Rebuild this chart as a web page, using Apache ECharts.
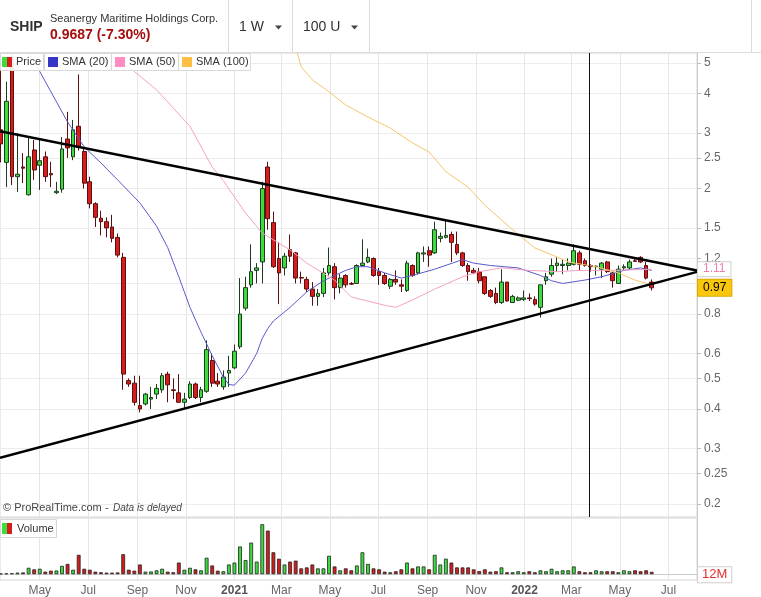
<!DOCTYPE html>
<html>
<head>
<meta charset="utf-8">
<script src="https://cdn.jsdelivr.net/npm/echarts@6/dist/echarts.min.js"></script>
<style>
  html, body { margin: 0; padding: 0; background: #fff; }
  #main { width: 761px; height: 597px; }
</style>
</head>
<body>
<div id="main"></div>
<script>
// weekly bars, week 0 = 13 Mar 2020
const firstWeek = Date.UTC(2020, 2, 13);
const WEEK = 7 * 86400000;
const xMin = Date.UTC(2020, 2, 12);
const xMax = Date.UTC(2022, 7, 6);

const monthTicks = ['2020-05', '2020-07', '2020-09', '2020-11', '2021-01', '2021-03', '2021-05',
  '2021-07', '2021-09', '2021-11', '2022-01', '2022-03', '2022-05', '2022-07'];
const monthNames = ['Jan', 'Feb', 'Mar', 'Apr', 'May', 'Jun', 'Jul', 'Aug', 'Sep', 'Oct', 'Nov', 'Dec'];
const priceLabels = [0.2, 0.25, 0.3, 0.4, 0.5, 0.6, 0.8, 1.2, 1.5, 2, 2.5, 3, 4, 5];
const priceGrid = [0.2, 0.25, 0.3, 0.4, 0.5, 0.6, 0.8, 1, 1.2, 1.5, 2, 2.5, 3, 4, 5];

const opens = [3.07, 2.42, 5.2, 2.18, 2.34, 1.91, 2.65, 2.37, 2.52, 2.23,
  1.94, 1.99, 2.87, 2.52, 3.15, 2.62, 2.10, 1.79, 1.61, 1.57,
  1.51, 1.40, 1.21, 0.492, 0.483, 0.41, 0.415, 0.43, 0.446, 0.46,
  0.516, 0.46, 0.45, 0.42, 0.435, 0.48, 0.435, 0.455, 0.57, 0.49,
  0.47, 0.52, 0.54, 0.63, 0.835, 0.99, 1.10, 1.17, 2.34, 1.56,
  1.20, 1.12, 1.28, 1.25, 1.045, 1.03, 0.96, 0.91, 0.93, 1.08,
  1.13, 0.97, 1.06, 1.0, 1.0, 1.14, 1.17, 1.20, 1.09, 1.06,
  0.98, 1.03, 0.99, 0.95, 1.14, 1.08, 1.24, 1.27, 1.25, 1.39,
  1.40, 1.43, 1.33, 1.25, 1.14, 1.10, 1.09, 1.05, 0.95, 0.93,
  0.87, 1.01, 0.87, 0.885, 0.89, 0.90, 0.89, 0.84, 1.02, 1.07,
  1.14, 1.14, 1.14, 1.15, 1.25, 1.18, 1.14, 1.13, 1.11, 1.17,
  1.08, 1.0, 1.12, 1.12, 1.18, 1.21, 1.14, 1.01];
const closes = [2.77, 3.78, 2.18, 2.22, 2.32, 2.52, 2.29, 2.45, 2.18, 2.21,
  1.96, 2.67, 2.69, 3.07, 2.70, 2.08, 1.79, 1.62, 1.57, 1.50,
  1.39, 1.23, 0.516, 0.48, 0.42, 0.40, 0.446, 0.435, 0.465, 0.51,
  0.477, 0.458, 0.42, 0.43, 0.48, 0.435, 0.46, 0.617, 0.483, 0.48,
  0.505, 0.53, 0.61, 0.80, 0.97, 1.09, 1.12, 2.00, 1.605, 1.13,
  1.08, 1.22, 1.22, 1.04, 1.04, 0.96, 0.91, 0.93, 1.08, 1.14,
  0.97, 1.04, 0.99, 0.995, 1.14, 1.16, 1.21, 1.06, 1.06, 1.0,
  1.03, 1.01, 0.98, 1.16, 1.06, 1.25, 1.25, 1.23, 1.48, 1.41,
  1.42, 1.35, 1.25, 1.14, 1.09, 1.08, 1.02, 0.93, 0.91, 0.87,
  1.01, 0.88, 0.91, 0.90, 0.90, 0.895, 0.86, 0.99, 1.05, 1.14,
  1.16, 1.15, 1.16, 1.27, 1.15, 1.14, 1.13, 1.135, 1.16, 1.09,
  1.02, 1.11, 1.13, 1.17, 1.175, 1.17, 1.04, 0.9687];
const lows = [2.42, 2.02, 2.05, 1.95, 2.08, 1.90, 2.13, 1.98, 2.10, 2.02,
  1.92, 1.94, 2.50, 2.46, 2.64, 2.00, 1.73, 1.51, 1.42, 1.40,
  1.35, 1.21, 0.46, 0.47, 0.41, 0.39, 0.41, 0.40, 0.43, 0.45,
  0.42, 0.43, 0.42, 0.40, 0.43, 0.43, 0.42, 0.45, 0.47, 0.47,
  0.46, 0.47, 0.535, 0.62, 0.82, 0.97, 1.00, 1.00, 1.48, 1.12,
  0.86, 1.06, 1.17, 1.00, 1.00, 0.94, 0.85, 0.85, 0.905, 1.06,
  0.89, 0.93, 0.97, 0.99, 1.0, 1.13, 1.16, 1.05, 0.99, 0.99,
  0.96, 0.99, 0.94, 0.94, 1.05, 1.07, 1.17, 1.13, 1.24, 1.35,
  1.39, 1.17, 1.23, 1.13, 1.02, 1.07, 1.0, 0.92, 0.90, 0.86,
  0.86, 0.875, 0.87, 0.88, 0.88, 0.88, 0.85, 0.78, 0.99, 1.05,
  1.09, 1.07, 1.10, 1.14, 1.10, 1.13, 1.09, 1.06, 1.04, 1.08,
  0.97, 1.0, 1.10, 1.11, 1.17, 1.16, 1.03, 0.95];
const highs = [4.9, 4.36, 5.8, 3.0, 2.59, 2.91, 2.85, 2.85, 2.62, 2.43,
  2.10, 2.91, 3.50, 3.30, 4.6, 2.70, 2.18, 1.81, 1.70, 1.62,
  1.65, 1.44, 1.25, 0.50, 0.51, 0.51, 0.45, 0.47, 0.48, 0.52,
  0.525, 0.50, 0.516, 0.45, 0.49, 0.485, 0.47, 0.66, 0.60, 0.52,
  0.53, 0.59, 0.64, 1.04, 1.05, 1.33, 1.16, 2.10, 2.43, 1.69,
  1.35, 1.25, 1.43, 1.26, 1.09, 1.05, 1.01, 0.96, 1.12, 1.30,
  1.16, 1.07, 1.07, 1.01, 1.15, 1.38, 1.29, 1.21, 1.12, 1.08,
  1.04, 1.10, 1.03, 1.18, 1.15, 1.26, 1.31, 1.31, 1.57, 1.45,
  1.59, 1.46, 1.46, 1.26, 1.16, 1.12, 1.12, 1.05, 0.96, 0.97,
  1.11, 1.01, 0.92, 0.91, 0.95, 0.93, 0.91, 0.99, 1.08, 1.20,
  1.21, 1.19, 1.20, 1.33, 1.27, 1.20, 1.15, 1.14, 1.17, 1.18,
  1.09, 1.14, 1.15, 1.19, 1.21, 1.22, 1.17, 1.03];
// volume in millions
const volumes = [3, 4, 5, 8, 9, 33, 25, 28, 13, 18,
  19, 43, 53, 23, 100, 28, 23, 13, 10, 8,
  8, 9, 103, 23, 18, 50, 13, 14, 20, 28,
  13, 10, 60, 23, 33, 25, 20, 85, 45, 18,
  15, 50, 60, 143, 73, 163, 65, 258, 225, 113,
  80, 50, 65, 70, 30, 35, 50, 30, 30, 95,
  40, 20, 30, 20, 45, 113, 53, 30, 25, 13,
  10, 15, 25, 60, 30, 40, 40, 25, 100, 50,
  80, 60, 35, 35, 35, 25, 16, 25, 13, 15,
  35, 10, 10, 15, 10, 15, 10, 20, 15, 28,
  15, 20, 20, 40, 15, 10, 10, 20, 15, 15,
  15, 10, 20, 15, 20, 15, 20, 12];

// moving averages: [week, value]
const sma20 = [[4, 5.9], [5, 5.4], [7, 4.7], [12, 3.25], [15, 2.71], [18, 2.41], [21, 2.13], [25, 1.80],
  [28, 1.52], [30, 1.30], [32, 1.05], [34, 0.84], [36, 0.70], [38, 0.59], [40, 0.505], [41, 0.478],
  [42, 0.476], [44, 0.52], [46, 0.60], [47, 0.67], [48, 0.72], [49, 0.76], [52, 0.84], [55, 0.94],
  [58, 1.02], [62, 1.10], [64, 1.13], [66, 1.13], [69, 1.08], [72, 1.04], [74, 1.06], [78, 1.11],
  [83, 1.19], [85, 1.16], [88, 1.14], [93, 1.12], [97, 1.06], [99, 1.02], [101, 1.0], [105, 1.025],
  [108, 1.05], [112, 1.10], [115, 1.12], [117, 1.10]];
const sma50 = [[20, 5.45], [24, 4.7], [28, 4.11], [34, 3.15], [38, 2.34], [40, 2.12], [42, 1.88], [44, 1.67],
  [47, 1.445], [52, 1.277], [55, 1.16], [60, 1.025], [63, 0.906], [69, 0.853], [71, 0.84], [74, 0.886],
  [78, 0.96], [83, 1.05], [86, 1.09], [90, 1.12], [95, 1.10], [100, 1.09], [104, 1.10], [110, 1.10], [117, 1.11]];
const sma100 = [[53, 5.6], [54, 4.86], [56, 4.42], [59, 4.05], [62, 3.68], [66, 3.37], [70, 3.11], [74, 2.79],
  [77, 2.61], [80, 2.26], [84, 2.02], [87, 1.77], [92, 1.48], [96, 1.296], [100, 1.213], [102, 1.17],
  [107, 1.13], [111, 1.08], [114, 1.025], [117, 0.99]];

// triangle trend lines, values at the left and right edge of the chart
const upperTrend = [3.04, 1.10];
const lowerTrend = [0.280, 1.088];
const cursorWeek = 105.8;

const GREEN = '#3ddc3d', RED = '#d81b1b';
const weekTime = w => firstWeek + w * WEEK;
const monthTimes = monthTicks.map(s => Date.UTC(+s.slice(0, 4), +s.slice(5) - 1, 1));
const candleData = opens.map((o, i) => [weekTime(i), o, closes[i], lows[i], highs[i]]);
const volumeData = volumes.map((v, i) => ({
  value: [weekTime(i), v],
  itemStyle: { color: closes[i] >= opens[i] ? GREEN : RED }
}));
const toLine = arr => arr.map(p => [weekTime(p[0]), p[1]]);

const myChart = echarts.init(document.getElementById('main'));

const txt = (x, y, text, font, fill) => ({
  type: 'text', x: x, y: y, z: 100,
  style: { text: text, font: font, fill: fill, verticalAlign: 'middle' }
});
const box = (x, y, w, h, fill, stroke) => ({
  type: 'rect', z: 99, shape: { x: x, y: y, width: w, height: h },
  style: { fill: fill, stroke: stroke || null, lineWidth: 1 }
});
const hline = (x1, y1, x2, y2) => ({
  type: 'line', z: 100, shape: { x1: x1, y1: y1, x2: x2, y2: y2 },
  style: { stroke: '#dcdcdc', lineWidth: 1 }
});

const legendFont = '11px Arial';
const graphics = [
  box(0, 0, 761, 52, '#fff'),
  hline(0, 52.5, 761, 52.5),
  hline(228.5, 0, 228.5, 52),
  hline(292.5, 0, 292.5, 52),
  hline(369.5, 0, 369.5, 52),
  hline(751.5, 0, 751.5, 52),
  txt(10, 27, 'SHIP', 'bold 14px Arial', '#333'),
  txt(50, 19, 'Seanergy Maritime Holdings Corp.', '11px Arial', '#333'),
  txt(50, 35, '0.9687 (-7.30%)', 'bold 14px Arial', '#a50e0e'),
  txt(239, 27, '1 W', '14px Arial', '#333'),
  { type: 'polygon', z: 100, shape: { points: [[275, 25.5], [282, 25.5], [278.5, 29.5]] }, style: { fill: '#444' } },
  txt(303, 27, '100 U', '14px Arial', '#333'),
  { type: 'polygon', z: 100, shape: { points: [[351, 25.5], [358, 25.5], [354.5, 29.5]] }, style: { fill: '#444' } },
  // legend
  box(0.5, 53.5, 43, 17, 'rgba(255,255,255,0.92)', '#d8d8d8'),
  box(2, 57, 5, 10, GREEN), box(7, 57, 5, 10, RED),
  txt(16, 62, 'Price', legendFont, '#333'),
  box(44.5, 53.5, 67, 17, 'rgba(255,255,255,0.92)', '#d8d8d8'),
  box(48, 57, 10, 10, '#3535c8'),
  txt(62, 62, 'SMA (20)', legendFont, '#333'),
  box(111.5, 53.5, 67, 17, 'rgba(255,255,255,0.92)', '#d8d8d8'),
  box(115, 57, 10, 10, '#ff8cc0'),
  txt(129, 62, 'SMA (50)', legendFont, '#333'),
  box(178.5, 53.5, 72, 17, 'rgba(255,255,255,0.92)', '#d8d8d8'),
  box(182, 57, 10, 10, '#ffbf45'),
  txt(196, 62, 'SMA (100)', legendFont, '#333'),
  // watermark
  txt(3, 508, '\u00a9 ProRealTime.com', '11px Arial', '#444'),
  txt(105, 508, '-', '11px Arial', '#444'),
  txt(113, 508, 'Data is delayed', 'italic 10px Arial', '#444'),
  // volume legend
  box(0.5, 519.5, 56, 18, 'rgba(255,255,255,0.92)', '#d8d8d8'),
  box(2, 523, 5, 11, GREEN), box(7, 523, 5, 11, RED),
  txt(17, 529, 'Volume', '11px Arial', '#333')
];

// x axis holds timestamps on a plain value scale so the month ticks can be placed exactly
const xBase = {
  type: 'value', min: xMin, max: xMax, scale: true,
  axisTick: { show: false, customValues: monthTimes },
  splitLine: { show: true, lineStyle: { color: '#e6e6e6', width: 1 } },
  axisLine: { show: false }
};

const hidden = { color: 'rgba(0,0,0,0)', width: 0 };

myChart.setOption({
  animation: false,
  backgroundColor: '#fff',
  textStyle: { fontFamily: 'Arial' },
  graphic: graphics,
  grid: [
    { left: 0, right: 64, top: 53, height: 464, show: true, borderColor: '#d6d6d6', borderWidth: 1 },
    { left: 0, right: 64, top: 518, height: 64, show: true, borderColor: '#d6d6d6', borderWidth: 1 }
  ],
  xAxis: [
    Object.assign({}, xBase, { gridIndex: 0, axisLabel: { show: false, customValues: monthTimes } }),
    Object.assign({}, xBase, {
      gridIndex: 1,
      axisLine: { show: true, lineStyle: { color: '#cccccc' } },
      axisLabel: {
        customValues: monthTimes, color: '#666', fontSize: 12, margin: 5,
        formatter: v => {
          const d = new Date(+v);
          return d.getUTCMonth() === 0 ? '{y|' + d.getUTCFullYear() + '}' : monthNames[d.getUTCMonth()];
        },
        rich: { y: { fontWeight: 'bold', color: '#555', fontSize: 12 } }
      }
    })
  ],
  yAxis: [
    {
      type: 'log', logBase: 10, min: 0.1818, max: 5.378, gridIndex: 0, position: 'right',
      axisLine: { show: true, lineStyle: { color: '#cccccc' } },
      axisTick: { show: true, length: 4, lineStyle: { color: '#bbb' }, customValues: priceGrid },
      axisLabel: {
        customValues: priceLabels, color: '#666', fontSize: 12, margin: 7,
        formatter: v => String(+(+v).toPrecision(3))
      },
      splitLine: { show: true, lineStyle: { color: '#ececec' } }
    },
    {
      type: 'value', min: -30, max: 290, gridIndex: 1, position: 'right',
      axisLine: { show: true, lineStyle: { color: '#cccccc' } },
      axisTick: { show: false }, axisLabel: { show: false }, splitLine: { show: false }
    }
  ],
  series: [
    {
      name: 'Price', type: 'candlestick', xAxisIndex: 0, yAxisIndex: 0, barWidth: 4.2,
      data: candleData,
      itemStyle: { color: GREEN, color0: RED, borderColor: '#1f3b1f', borderColor0: '#5a1010', borderWidth: 1 },
      markLine: {
        symbol: 'none', silent: true, animation: false,
        data: [
          { xAxis: weekTime(cursorWeek), lineStyle: { color: '#111', width: 1, type: 'solid' }, label: { show: false } },
          {
            yAxis: closes[closes.length - 1], lineStyle: hidden,
            label: {
              show: true, position: 'end', distance: 1, formatter: () => closes[closes.length - 1].toFixed(2),
              color: '#000', fontSize: 12, backgroundColor: '#f9c80e', borderColor: '#d9a900', borderWidth: 1,
              padding: [2, 5]
            }
          }
        ]
      }
    },
    {
      name: 'SMA (20)', type: 'line', xAxisIndex: 0, yAxisIndex: 0, showSymbol: false, z: 3,
      data: toLine(sma20), lineStyle: { color: '#5a5acc', width: 1 }
    },
    {
      name: 'SMA (50)', type: 'line', xAxisIndex: 0, yAxisIndex: 0, showSymbol: false, z: 3,
      data: toLine(sma50), lineStyle: { color: '#f4a2c4', width: 1 },
      markLine: {
        symbol: 'none', silent: true, animation: false,
        data: [{
          yAxis: sma50[sma50.length - 1][1], lineStyle: hidden,
          label: {
            show: true, position: 'end', distance: 1, formatter: () => sma50[sma50.length - 1][1].toFixed(2),
            color: '#f07fb0', fontSize: 12, backgroundColor: '#fff', borderColor: '#cfcfcf', borderWidth: 1,
            padding: [1, 5]
          }
        }]
      }
    },
    {
      name: 'SMA (100)', type: 'line', xAxisIndex: 0, yAxisIndex: 0, showSymbol: false, z: 3,
      data: toLine(sma100), lineStyle: { color: '#f7c56e', width: 1 }
    },
    {
      type: 'line', xAxisIndex: 0, yAxisIndex: 0, showSymbol: false, z: 4,
      data: [[xMin, upperTrend[0]], [xMax, upperTrend[1]]], lineStyle: { color: '#000', width: 2.5 }
    },
    {
      type: 'line', xAxisIndex: 0, yAxisIndex: 0, showSymbol: false, z: 4,
      data: [[xMin, lowerTrend[0]], [xMax, lowerTrend[1]]], lineStyle: { color: '#000', width: 2.5 }
    },
    {
      name: 'Volume', type: 'bar', xAxisIndex: 1, yAxisIndex: 1, barWidth: 3.8,
      data: volumeData,
      itemStyle: { borderColor: '#222', borderWidth: 0.8 },
      markLine: {
        symbol: 'none', silent: true, animation: false,
        data: [{
          yAxis: volumes[volumes.length - 1], lineStyle: hidden,
          label: {
            show: true, position: 'end', distance: 1, offset: [0, 3],
            formatter: () => volumes[volumes.length - 1] + 'M',
            color: '#e03030', fontSize: 13, backgroundColor: '#fff', borderColor: '#cfcfcf', borderWidth: 1,
            padding: [1, 4]
          }
        }]
      }
    }
  ]
});
</script>
</body>
</html>
